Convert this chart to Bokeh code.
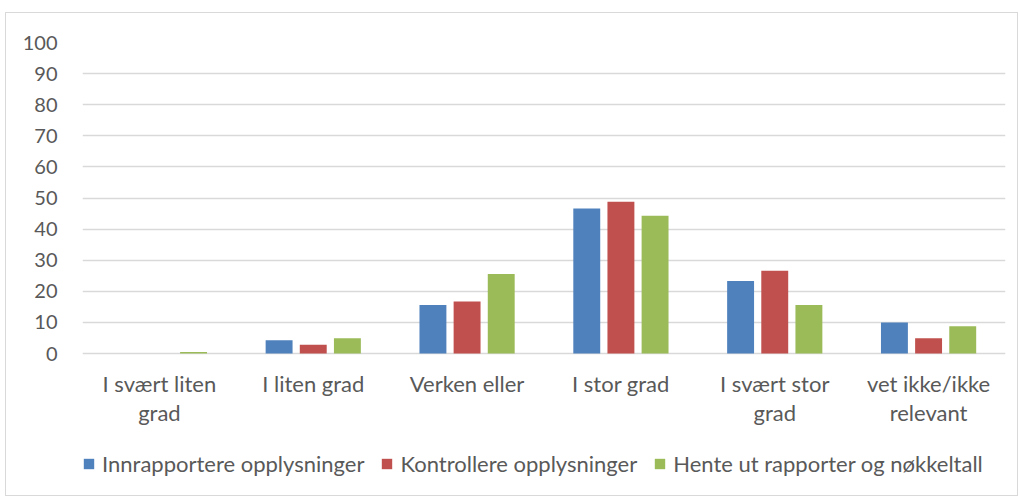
from bokeh.plotting import figure
from bokeh.models import Legend, LegendItem, FactorRange, FixedTicker, ColumnDataSource
from bokeh.core.properties import value
from bokeh.transform import dodge
from bokeh.embed import file_html
from bokeh.resources import INLINE

categories = ["I svært liten grad", "I liten grad", "Verken eller", "I stor grad",
              "I svært stor grad", "vet ikke/ikke relevant"]
category_labels = ["I svært liten\ngrad", "I liten grad", "Verken eller", "I stor grad",
                   "I svært stor\ngrad", "vet ikke/ikke\nrelevant"]
innrapportere = [0.0, 4.3, 15.6, 46.6, 23.3, 10.0]
kontrollere = [0.0, 2.8, 16.7, 48.8, 26.6, 4.9]
hente = [0.5, 4.9, 25.6, 44.3, 15.6, 8.8]
y_ticks = [0, 10, 20, 30, 40, 50, 60, 70, 80, 90, 100]
series_names = ["Innrapportere opplysninger", "Kontrollere opplysninger", "Hente ut rapporter og nøkkeltall"]
colors = ["#4F81BD", "#C0504D", "#9BBB59"]

src = ColumnDataSource(dict(cat=categories, lab=category_labels, zero=[0] * len(categories),
                            a=innrapportere, b=kontrollere, c=hente))

FONT = "Lato"
TXT = "#595959"

# plot area: 311 px for 0..100, extended 137 px below zero for category labels and legend
PX_PLOT = 311
PX_BELOW = 137
y_start = -100.0 * PX_BELOW / PX_PLOT

p = figure(x_range=FactorRange(*categories), y_range=(y_start, 100),
           frame_width=923, frame_height=PX_PLOT + PX_BELOW,
           output_backend="svg", toolbar_location=None,
           min_border_left=76, min_border_right=12, min_border_top=29, min_border_bottom=5)
p.outline_line_color = None

renderers = []
for col, off, color in zip(["a", "b", "c"], [-0.222, 0.0, 0.222], colors):
    r = p.vbar(x=dodge("cat", off, range=p.x_range), top=col, width=0.175, source=src,
               fill_color=color, line_color=None)
    renderers.append(r)

# category labels under the zero line
p.text(x="cat", y="zero", text="lab", source=src, y_offset=16,
       text_align="center", text_baseline="top", text_font=value(FONT),
       text_font_size="22px", text_color=TXT, text_line_height=1.1)

p.xaxis.visible = False
p.yaxis.ticker = FixedTicker(ticks=y_ticks)
p.yaxis.axis_line_color = None
p.yaxis.major_tick_line_color = None
p.yaxis.minor_tick_line_color = None
p.yaxis.major_label_text_font = FONT
p.yaxis.major_label_text_font_size = "20px"
p.yaxis.major_label_text_color = TXT
p.yaxis.major_label_standoff = 19

p.xgrid.grid_line_color = None
p.ygrid.ticker = FixedTicker(ticks=y_ticks)
p.ygrid.grid_line_color = "#d9d9d9"
p.ygrid.grid_line_width = 1.5

legend = Legend(items=[LegendItem(label=n, renderers=[r]) for n, r in zip(series_names, renderers)],
                orientation="horizontal", location=(0, 13),
                label_text_font=FONT, label_text_font_size="22px", label_text_color=TXT,
                glyph_width=13, glyph_height=13, spacing=16, label_standoff=7,
                border_line_color=None, background_fill_alpha=0, padding=0, margin=0)
p.add_layout(legend, "center")

p.styles = {"border": "1px solid #d9d9d9", "box-sizing": "border-box",
            "margin-left": "5px", "margin-top": "12px"}

open("out.html", "w").write(file_html(p, INLINE))
